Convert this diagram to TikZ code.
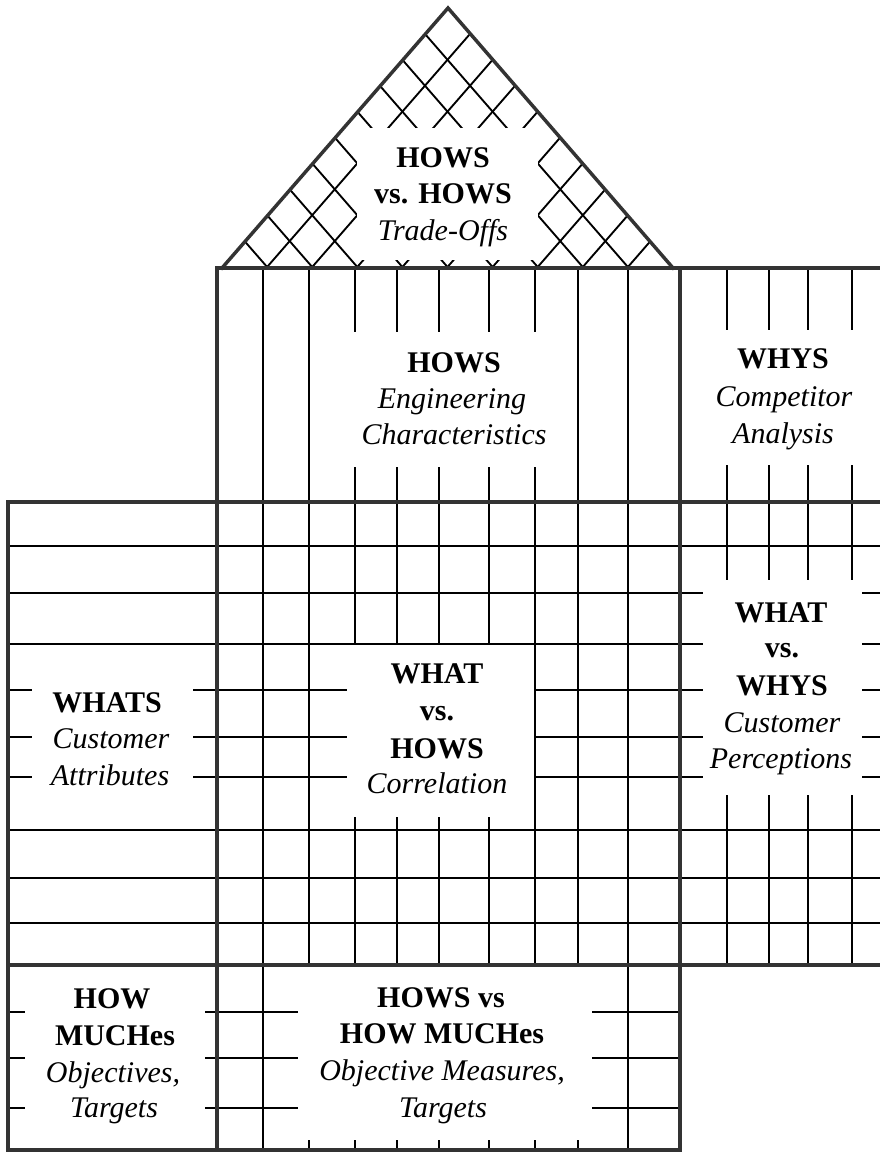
\documentclass[tikz,border=0pt]{standalone}
\usepackage{fontspec}
\setmainfont{Liberation Serif}
\begin{document}
\begin{tikzpicture}[x=0.75pt,y=-0.75pt,
  gridline/.style={line width=1.1pt, black},
  border/.style={line width=2.6pt, black!80, line cap=rect, line join=miter},
  hatchline/.style={line width=1.4pt, black},
  lblb/.style={anchor=base, inner sep=0pt, font=\fontsize{22.5}{27}\selectfont\bfseries},
  lbli/.style={anchor=base, inner sep=0pt, font=\fontsize{22.5}{27}\selectfont\itshape},
]
\useasboundingbox (0,0) rectangle (880,1153);

% ---- roof cross-hatch ----
\foreach \i in {1,...,9} {
  \draw[hatchline] ({222+\i*45.1},267) -- ({(222+\i*45.1+673)/2},{267-(10-\i)*45.1/2*1.1486});
  \draw[hatchline] ({222+\i*45.1},267) -- ({(222+222+\i*45.1)/2},{267-\i*45.1/2*1.1486});
}
\fill[white] (357,128) rectangle (538,260);

% ---- vertical grid lines ----
\draw[gridline] (263,268) -- (263,1150);
\draw[gridline] (628,268) -- (628,1150);
\draw[gridline] (309,268) -- (309,965);
\draw[gridline] (578,268) -- (578,965);
\foreach \x in {355,397,439,489} {
  \draw[gridline] (\x,268) -- (\x,332) (\x,467) -- (\x,644) (\x,817) -- (\x,965);
}
\draw[gridline] (535,268) -- (535,332) (535,467) -- (535,965);
\foreach \x in {309,355,397,439,489,535,578} \draw[gridline] (\x,1140) -- (\x,1150);
\foreach \x in {727,769,808,852} \draw[gridline] (\x,268) -- (\x,330) (\x,465) -- (\x,580) (\x,795) -- (\x,965);

% ---- horizontal grid lines ----
\foreach \y in {546,830,878,923} \draw[gridline] (8,\y) -- (880,\y);
\foreach \y in {593,644} \draw[gridline] (8,\y) -- (703,\y) (862,\y) -- (880,\y);
\foreach \y in {690,737,777} \draw[gridline] (8,\y) -- (32,\y) (193,\y) -- (347,\y) (535,\y) -- (703,\y) (862,\y) -- (880,\y);
\foreach \y in {1012,1058,1108} \draw[gridline] (8,\y) -- (25,\y) (205,\y) -- (298,\y) (592,\y) -- (680,\y);

% ---- heavy outlines ----
\draw[border] (222,268) -- (448,8) -- (673,268);
\draw[border] (217,268) -- (880,268);
\draw[border] (8,502) -- (880,502);
\draw[border] (8,965) -- (880,965);
\draw[border] (217,268) -- (217,1150);
\draw[border] (680,268) -- (680,1150);
\draw[border] (8,502) -- (8,1150) -- (680,1150);

% ---- labels ----
\node[lblb] (roofA) at (443,167) {HOWS};
\node[lblb] (roofB) at (443,203) {vs. HOWS};
\node[lbli] (roofC) at (443,240) {Trade-Offs};

\node[lblb] (howsA) at (454,372) {HOWS};
\node[lbli] (howsB) at (452,408) {Engineering};
\node[lbli] (howsC) at (454,444) {Characteristics};

\node[lblb] (whysA) at (783,368) {WHYS};
\node[lbli] (whysB) at (784,406) {Competitor};
\node[lbli] (whysC) at (783,443) {Analysis};

\node[lblb] (whatsA) at (107,712) {WHATS};
\node[lbli] (whatsB) at (111,748) {Customer};
\node[lbli] (whatsC) at (110,785) {Attributes};

\node[lblb] (corrA) at (437,683) {WHAT};
\node[lblb] (corrB) at (437,720) {vs.};
\node[lblb] (corrC) at (437,758) {HOWS};
\node[lbli] (corrD) at (437,793) {Correlation};

\node[lblb] (percA) at (781,622) {WHAT};
\node[lblb] (percB) at (782,657) {vs.};
\node[lblb] (percC) at (782,695) {WHYS};
\node[lbli] (percD) at (782,732) {Customer};
\node[lbli] (percE) at (781,768) {Perceptions};

\node[lblb] (muchA) at (112,1008) {HOW};
\node[lblb] (muchB) at (115,1045) {MUCHes};
\node[lbli] (muchC) at (113,1082) {Objectives,};
\node[lbli] (muchD) at (114,1117) {Targets};

\node[lblb] (measA) at (441,1007) {HOWS vs};
\node[lblb] (measB) at (442,1043) {HOW MUCHes};
\node[lbli] (measC) at (442,1080) {Objective Measures,};
\node[lbli] (measD) at (443,1117) {Targets};
\end{tikzpicture}
\end{document}
